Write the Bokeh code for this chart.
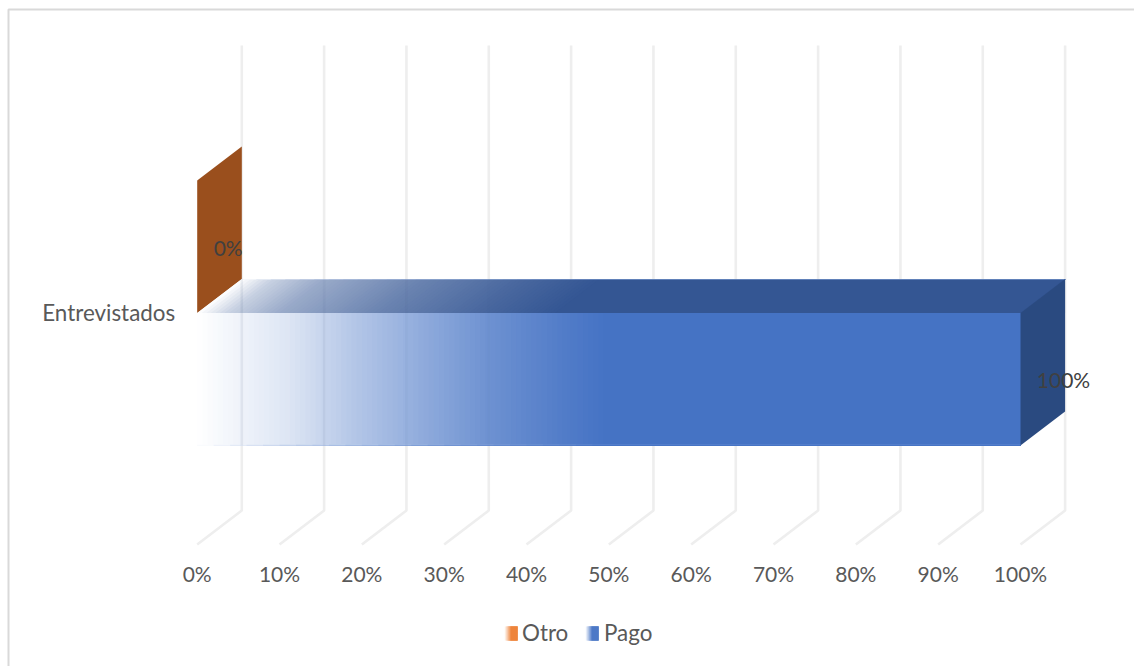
from bokeh.core.properties import value
from bokeh.embed import file_html
from bokeh.models import FixedTicker, Range1d
from bokeh.plotting import figure
from bokeh.resources import INLINE

# Chart data
categories = ["Entrevistados"]
otro_values = [0]
pago_values = [100]
series_names = ["Otro", "Pago"]
tick_values = [0, 10, 20, 30, 40, 50, 60, 70, 80, 90, 100]

W, H = 1134, 666
PX_PER_PCT = 8.233
LEFT = 196.7        # pixel column of 0 %
BASE = 312.5        # pixel row of the category line

# Projection of the 3-D box, expressed in axis units
DEPTH_X = 44.6 / PX_PER_PCT
DEPTH_Y = 34
BAR = 132.5
FLOOR = -231.5
WALL_TOP = 267.5
CATEGORY_LABEL_Y = 0.5

BLUE, BLUE_TOP, BLUE_SIDE = "#4472C4", "#335593", "#2A4A80"
ORANGE, ORANGE_SIDE = "#ED7D31", "#9A4F1D"
GRID = "#EEEEEE"
TEXT = "#595959"
LABEL = "#404040"
FONT = "Lato"
FS_TICK = "21px"
FS_BIG = "22.4px"

# Opacity stops (percent along the bar, opacity) of the gradient fills
FRONT_STOPS = [(0, 0), (5.5, .09), (11, .18), (19, .40), (27.5, .6), (35.6, .78), (44, .92), (50, 1)]
TOP_STOPS = [(0, 0), (3.8, .27), (10, .5), (22, .73), (34, .89), (44, 1)]
RIM_STOPS = [(0, 0), (10, .3), (30, .75), (50, 1)]

p = figure(width=W, height=H, output_backend="svg", toolbar_location=None,
           x_range=Range1d(-LEFT / PX_PER_PCT, (W - LEFT) / PX_PER_PCT),
           y_range=Range1d(BASE - H, BASE), min_border=0,
           outline_line_color=None, background_fill_color="white",
           border_fill_color="white")
p.grid.visible = False

# Value axis: percentages printed under the floor
p.xaxis.ticker = FixedTicker(ticks=tick_values)
p.xaxis.major_label_overrides = {t: f"{t}%" for t in tick_values}
p.xaxis.fixed_location = -248
p.xaxis.axis_line_color = None
p.xaxis.major_tick_line_color = None
p.xaxis.major_tick_out = 0
p.xaxis.major_tick_in = 0
p.xaxis.minor_tick_line_color = None
p.xaxis.major_label_standoff = 0
p.xaxis.major_label_text_font = FONT
p.xaxis.major_label_text_font_size = FS_TICK
p.xaxis.major_label_text_color = TEXT

# Category axis
p.yaxis.ticker = FixedTicker(ticks=[CATEGORY_LABEL_Y])
p.yaxis.major_label_overrides = {CATEGORY_LABEL_Y: categories[0]}
p.yaxis.fixed_location = 0
p.yaxis.axis_line_color = None
p.yaxis.major_tick_line_color = None
p.yaxis.major_tick_out = 0
p.yaxis.major_tick_in = 0
p.yaxis.minor_tick_line_color = None
p.yaxis.major_label_standoff = 22
p.yaxis.major_label_text_font = FONT
p.yaxis.major_label_text_font_size = FS_BIG
p.yaxis.major_label_text_color = TEXT


def ux(px):
    return (px - LEFT) / PX_PER_PCT


def uy(px):
    return BASE - px


# Card outline, running off the right and bottom edges
p.line([ux(8), ux(8), ux(W + 10)], [uy(H + 10), uy(9), uy(9)], line_color="#D9D9D9", line_width=2)

# Back-wall and floor gridlines
for t in tick_values:
    p.line([t, t + DEPTH_X, t + DEPTH_X], [FLOOR, FLOOR + DEPTH_Y, WALL_TOP],
           line_color=GRID, line_width=2.6)


def ramp(stops, t):
    if t <= stops[0][0]:
        return stops[0][1]
    for (t0, a0), (t1, a1) in zip(stops, stops[1:]):
        if t <= t1:
            return a0 + (a1 - a0) * (t - t0) / (t1 - t0)
    return stops[-1][1]


def tint(hex_color, a):
    """Colour seen when hex_color lies at opacity a over white."""
    rgb = [int(hex_color[i:i + 2], 16) for i in (1, 3, 5)]
    return "#%02X%02X%02X" % tuple(round(255 + (c - 255) * a) for c in rgb)


def fade_poly(x1, y0, y1, color, stops, shear=0.0, n=80, start=0.0):
    """Paint a band left to right in tints; each strip runs on under the next, so no seams show."""
    end = stops[-1][0]
    for i in range(n):
        xs = start + end * i / n
        a = ramp(stops, end * (i + 0.5) / n)
        p.patch([xs, x1, x1 + shear, xs + shear], [y0, y0, y1, y1],
                fill_color=tint(color, a), line_color=None)


# Otro: a zero-length bar leaves only its end cap
ox = otro_values[0]
p.patch([ox, ox + DEPTH_X, ox + DEPTH_X, ox],
        [BAR, BAR + DEPTH_Y, DEPTH_Y, 0],
        fill_color=ORANGE_SIDE, line_color=None)

# Pago: front, top and end faces, with a faint rim along the long edges
end = pago_values[0]
fade_poly(end, -BAR, 0, BLUE, FRONT_STOPS)
fade_poly(end, 0, DEPTH_Y, BLUE_TOP, TOP_STOPS, shear=DEPTH_X)
fade_poly(end, -BAR - 0.5, -BAR + 0.7, BLUE, RIM_STOPS, n=25)
fade_poly(end + DEPTH_X, DEPTH_Y - 0.8, DEPTH_Y, "#5F7FB8", TOP_STOPS, n=25, start=DEPTH_X)
p.patch([end, end + DEPTH_X, end + DEPTH_X, end],
        [0, DEPTH_Y, DEPTH_Y - BAR, -BAR],
        fill_color=BLUE_SIDE, line_color=None)

# Gridlines stay visible through the transparent part of the gradient
for t in tick_values:
    gx = t + DEPTH_X
    seen_front = 0.09 * (1 - ramp(FRONT_STOPS, gx))
    seen_top = 0.09 * (1 - ramp(TOP_STOPS, gx - DEPTH_X / 2))
    if seen_front > 0:
        p.line([gx, gx], [-BAR, 0], line_color="#203060", line_alpha=seen_front, line_width=2.6)
    if seen_top > 0:
        p.line([gx, gx], [0, DEPTH_Y], line_color="#203060", line_alpha=seen_top, line_width=2.6)

# Data labels
p.text([ox + 31 / PX_PER_PCT], [BAR / 2 - 0.5], text=[f"{otro_values[0]}%"], text_font=value(FONT),
       text_font_size=FS_TICK, text_color=LABEL, text_align="center", text_baseline="middle")
p.text([end + 43 / PX_PER_PCT], [-BAR / 2], text=[f"{pago_values[0]}%"], text_font=value(FONT),
       text_font_size=FS_TICK, text_color=LABEL, text_align="center", text_baseline="middle")

# Legend
LEG_Y = uy(633)
for name, color, sw, tx in zip(series_names, [ORANGE, BLUE], [504, 585], [521.5, 603.5]):
    for i in range(10):
        xs = ux(sw) + (ux(sw + 7) - ux(sw)) * i / 10
        p.quad(left=xs, right=ux(sw + 13), bottom=LEG_Y - 7, top=LEG_Y + 7,
               fill_color=tint(color, (i + 0.5) / 10), line_color=None)
    p.text([ux(tx)], [LEG_Y + 1], text=[name], text_font=value(FONT), text_font_size=FS_BIG,
           text_color=TEXT, text_align="left", text_baseline="middle")

open("out.html", "w").write(file_html(p, INLINE))
